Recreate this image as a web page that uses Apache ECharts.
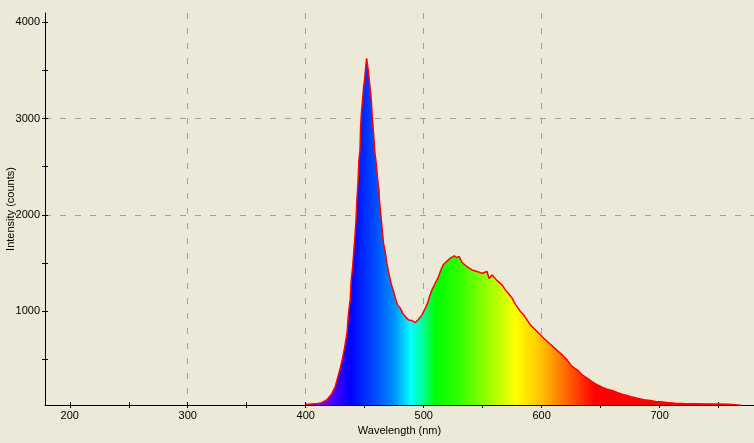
<!DOCTYPE html>
<html>
<head>
<meta charset="utf-8">
<script src="https://cdn.jsdelivr.net/npm/echarts@6/dist/echarts.min.js"></script>
<style>
html,body{margin:0;padding:0;background:#ECE9D8;}
#c{width:754px;height:443px;}
</style>
</head>
<body>
<div id="c"></div>
<script>
// Wavelength (nm) samples
var wavelengths = [400,405,410,413,418,422,425,427.3,429.3,431.2,432.9,435,436.3,437.7,438.6,439.7,441.4,442.6,443.4,444.3,445.1,446,446.5,447.3,448.2,449,449.9,450.7,451.6,452.4,453,453.9,454.7,455.6,456.4,457.5,458.7,459.8,460.9,462.1,462.6,466,467.4,468.8,470.2,471.7,473.1,474.5,476.5,477.9,480.2,482.1,484.4,487.2,490.1,492.9,495.7,498.6,501.4,503.3,505,507,509.8,512.1,514.1,516.4,519.2,522.6,526,528,530,532.5,536.7,541,545.2,549.5,553.7,555.5,558,562.2,566.4,569.2,572.1,575,577.1,579.1,582,584.7,587.6,590.4,593.2,596.1,598.9,601.7,617.3,621.5,625.8,630,634.3,638.5,642.7,647,651.2,655.5,659.7,664,668.2,672.4,676.7,680.9,686.6,692.2,696.4,700.7,706.3,713.4,720,730,740,750,758,764,770];
// Intensity (counts)
var intensity = [30,35,40,45,80,140,215,320,410,510,615,770,980,1117,1325,1446,1722,1930,2155,2328,2570,2674,2900,3071,3193,3325,3408,3512,3626,3608,3504,3400,3304,3193,3020,2847,2640,2536,2380,2259,2137,1700,1618,1498,1411,1325,1255,1203,1117,1065,1031,979,944,909,902,881,916,961,1031,1083,1151,1221,1290,1342,1411,1480,1514,1550,1575,1555,1570,1505,1463,1428,1411,1394,1411,1340,1375,1317,1273,1221,1179,1135,1083,1047,996,961,909,857,823,788,754,719,546,494,425,390,338,304,269,235,211,190,175,155,138,124,107,96,79,72,61,58,51,44,40,38,36,35,33,28,20];
var xLabels = [200,300,400,500,600,700];
var xTicks = [200,250,300,350,400,450,500,550,600,650,700,750];
var yLabels = [1000,2000,3000,4000];
var yTicks = [500,1000,1500,2000,2500,3000,3500,4000];

var X_MIN = 179, X_MAX = 780, Y_MIN = 25, Y_MAX = 4097;
var FONT = 'Liberation Sans';

var data = wavelengths.map(function(w,i){return [w,intensity[i]];});
var w0 = wavelengths[0], w1 = wavelengths[wavelengths.length-1];
function off(w){return (w-w0)/(w1-w0);}
var spectrumStops = [
  [400,'#8800ff'],[415,'#7000ff'],[425,'#4000ff'],[438,'#0000ff'],[460,'#0050ff'],
  [475,'#0090ff'],[489,'#00ffff'],[500,'#00ff90'],[510,'#00ff00'],[530,'#30ff00'],
  [560,'#b0ff00'],[578,'#ffff00'],[600,'#ffc000'],[615,'#ff8000'],[630,'#ff4000'],
  [645,'#ff0000'],[770,'#ff0000']
];
var grad = new echarts.graphic.LinearGradient(0,0,1,0, spectrumStops.map(function(s){return {offset:off(s[0]), color:s[1]};}));
function plain(v){return String(Math.round(v));}

function xAxisBase(extra){
  var a = {type:'value', min:X_MIN, max:X_MAX, position:'bottom',
    axisLine:{show:false, onZero:false}, axisLabel:{show:false}, splitLine:{show:false}, axisTick:{show:false}};
  for (var k in extra) a[k]=extra[k];
  return a;
}
function yAxisBase(extra){
  var a = {type:'value', min:Y_MIN, max:Y_MAX, position:'left',
    axisLine:{show:false, onZero:false}, axisLabel:{show:false}, splitLine:{show:false}, axisTick:{show:false}};
  for (var k in extra) a[k]=extra[k];
  return a;
}
var gridLine = {show:true, showMinLine:false, showMaxLine:false, lineStyle:{color:'#a0a0a0', type:[6,9], width:1}};

var chart = echarts.init(document.getElementById('c'), null, {renderer:'canvas'});
chart.setOption({
  backgroundColor:'#ECE9D8',
  animation:false,
  grid:{left:45, right:0, top:13, bottom:38, containLabel:false, outerBoundsMode:'none'},
  xAxis:[
    xAxisBase({minInterval:100, maxInterval:100,
      name:'Wavelength (nm)', nameLocation:'middle', nameGap:20, nameMoveOverlap:false,
      nameTextStyle:{color:'#000', fontFamily:FONT, fontSize:11},
      axisLine:{show:true, onZero:false, lineStyle:{color:'#000', width:1}},
      axisTick:{show:false, customValues:xLabels},
      axisLabel:{show:true, customValues:xLabels, formatter:plain, color:'#000', fontFamily:FONT, fontSize:11, margin:5},
      splitLine:gridLine}),
    xAxisBase({axisTick:{show:true, inside:true, length:3, customValues:xTicks, lineStyle:{color:'#000'}}}),
    xAxisBase({axisTick:{show:true, inside:false, length:3, customValues:xTicks, lineStyle:{color:'#000'}}})
  ],
  yAxis:[
    yAxisBase({minInterval:1000, maxInterval:1000,
      name:'Intensity (counts)', nameLocation:'middle', nameGap:29, nameMoveOverlap:false,
      nameTextStyle:{color:'#000', fontFamily:FONT, fontSize:11},
      axisLine:{show:true, onZero:false, lineStyle:{color:'#000', width:1}},
      axisTick:{show:false, customValues:yLabels},
      axisLabel:{show:true, customValues:yLabels, formatter:plain, color:'#000', fontFamily:FONT, fontSize:11, margin:5},
      splitLine:gridLine}),
    yAxisBase({axisTick:{show:true, inside:true, length:3, customValues:yTicks, lineStyle:{color:'#000'}}}),
    yAxisBase({axisTick:{show:true, inside:false, length:3, customValues:yTicks, lineStyle:{color:'#000'}}})
  ],
  series:[{
    type:'line', xAxisIndex:0, yAxisIndex:0, data:data,
    showSymbol:false, smooth:false, clip:true, z:3,
    lineStyle:{color:'#ff0000', width:1.5},
    areaStyle:{color:grad, opacity:1, origin:'start'}
  }]
});
</script>
</body>
</html>
